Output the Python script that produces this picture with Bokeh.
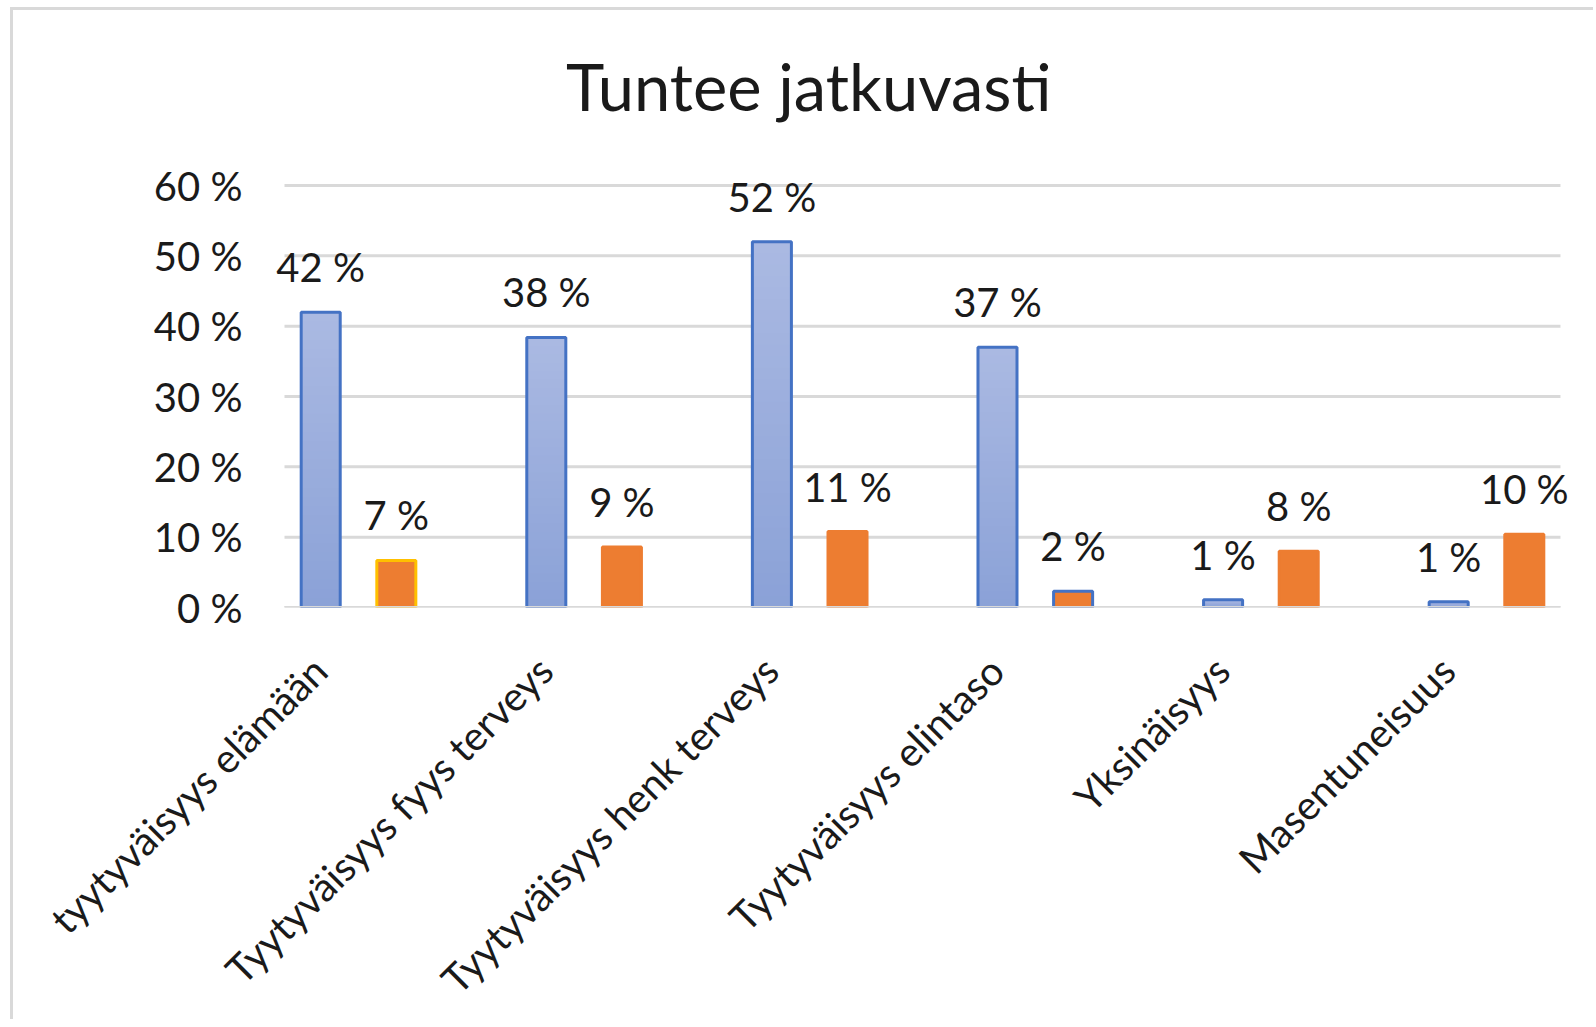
import numpy as np
from bokeh.plotting import figure
from bokeh.models import ColumnDataSource, LabelSet, Label, FixedTicker, Range1d
from bokeh.embed import file_html
from bokeh.resources import INLINE
from bokeh.core.properties import value

# ---------------- data ----------------
categories = [
    "tyytyväisyys elämään",
    "Tyytyväisyys fyys terveys",
    "Tyytyväisyys henk terveys",
    "Tyytyväisyys elintaso",
    "Yksinäisyys",
    "Masentuneisuus",
]
blue_values = [42.0, 38.4, 52.0, 37.0, 1.1, 0.8]
orange_values = [6.7, 8.6, 10.8, 2.3, 8.0, 10.4]
y_ticks = [0, 10, 20, 30, 40, 50, 60]
y_tick_labels = ["0 %", "10 %", "20 %", "30 %", "40 %", "50 %", "60 %"]
chart_title = "Tuntee  jatkuvasti"

# ---------------- styles ----------------
FONT = "Lato"
TEXT = "#1A1A1A"
GRID = "#D9D9D9"
BLUE_LINE = "#4472C4"
BLUE_TOP = (0xAA, 0xB9, 0xE2)
BLUE_BOTTOM = (0x8A, 0xA1, 0xD7)
ORANGE = "#ED7D31"
orange_line_colors = ["#FFC000", ORANGE, ORANGE, BLUE_LINE, ORANGE, ORANGE]

GROUP_SHIFT = 0.172
HALF = 0.1676
BAR_W = 0.173
PAD = 0.328
EXT = 0.071      # extra room so that edge labels are not clipped
Y_TOP = 84.89    # frame reaches up to the title area
TITLE_X = 2.205  # title centre (x data units)
TITLE_Y = 74.1   # title anchor (y data units)

n = len(categories)
idx = np.arange(n)
xb = idx + GROUP_SHIFT - HALF
xo = idx + GROUP_SHIFT + HALF
grid_left = -PAD + GROUP_SHIFT
grid_right = n - 1 + PAD + GROUP_SHIFT

W, H = 1583, 1012
p = figure(
    width=W, height=H,
    x_range=Range1d(grid_left - EXT, grid_right + EXT),
    y_range=Range1d(y_ticks[0], Y_TOP),
    output_backend="svg", toolbar_location=None,
    min_border_left=255, min_border_right=20,
    min_border_top=0, min_border_bottom=415,
)
p.styles = {"border-top": "3px solid #D9D9D9", "border-left": "3px solid #D9D9D9",
            "margin-top": "7px", "margin-left": "10px"}
p.outline_line_color = None
p.background_fill_color = "white"
p.border_fill_color = "white"

# grid (drawn as segments so the plot frame can be wider than the grid)
p.xgrid.visible = False
p.ygrid.visible = False
p.segment(x0=[grid_left] * len(y_ticks), x1=[grid_right] * len(y_ticks),
          y0=y_ticks, y1=y_ticks, line_color=GRID, line_width=3)

# y axis
p.yaxis.ticker = FixedTicker(ticks=y_ticks)
p.yaxis.major_label_overrides = dict(zip(y_ticks, y_tick_labels))
p.yaxis.axis_line_color = None
p.yaxis.major_tick_line_color = None
p.yaxis.minor_tick_line_color = None
p.yaxis.major_tick_out = 0
p.yaxis.major_tick_in = 0
p.yaxis.major_label_standoff = 26
p.yaxis.major_label_text_font = FONT
p.yaxis.major_label_text_font_size = "40px"
p.yaxis.major_label_text_color = TEXT

# x axis
p.xaxis.ticker = FixedTicker(ticks=[int(i) for i in idx])
p.xaxis.major_label_overrides = {int(i): c for i, c in zip(idx, categories)}
p.xaxis.major_label_orientation = np.pi / 4
p.xaxis.axis_line_color = None
p.xaxis.major_tick_line_color = None
p.xaxis.minor_tick_line_color = None
p.xaxis.major_tick_out = 0
p.xaxis.major_tick_in = 0
p.xaxis.major_label_standoff = 56
p.xaxis.major_label_text_font = FONT
p.xaxis.major_label_text_font_size = "40px"
p.xaxis.major_label_text_color = TEXT

# blue bars: vertical gradient drawn as nested bars from the values
N = 32
for k in range(N):
    frac = (N - k) / N
    rgb = tuple(int(round(b + (t - b) * frac)) for t, b in zip(BLUE_TOP, BLUE_BOTTOM))
    col = "#%02X%02X%02X" % rgb
    p.vbar(x=xb, top=[v * frac for v in blue_values], bottom=0, width=BAR_W,
           fill_color=col, line_color=None)
p.vbar(x=xb, top=blue_values, bottom=0, width=BAR_W, fill_color=None,
       line_color=BLUE_LINE, line_width=3)

# orange bars
osrc = ColumnDataSource(dict(x=xo, top=orange_values, line=orange_line_colors))
p.vbar(x="x", top="top", bottom=0, width=BAR_W, source=osrc,
       fill_color=ORANGE, line_color="line", line_width=3)

# baseline on top of the bars
p.segment(x0=[grid_left], x1=[grid_right], y0=[0], y1=[0], line_color=GRID, line_width=3)

# data labels
lx = list(xb) + list(xo)
ly = blue_values + orange_values
lt = [f"{round(v)} %" for v in ly]
lsrc = ColumnDataSource(dict(x=lx, y=ly, text=lt))
p.add_layout(LabelSet(x="x", y="y", text="text", source=lsrc,
                      text_align="center", text_baseline="alphabetic",
                      y_offset=30, text_font=value(FONT),
                      text_font_size="40px", text_color=TEXT))

# chart title
p.add_layout(Label(x=TITLE_X, y=TITLE_Y, text=chart_title, text_align="center",
                   text_baseline="alphabetic", text_font=FONT,
                   text_font_size="65px", text_color=TEXT))

open("out.html", "w").write(file_html(p, INLINE))
